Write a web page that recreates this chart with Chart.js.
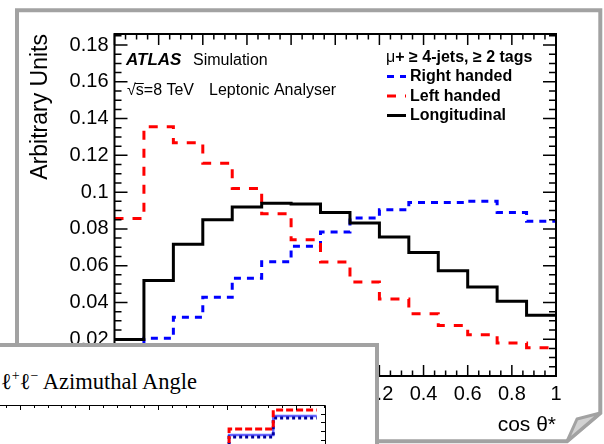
<!DOCTYPE html>
<html>
<head>
<meta charset="utf-8">
<script src="https://cdn.jsdelivr.net/npm/chart.js@4.4.1/dist/chart.umd.min.js"></script>
<style>
  html, body { margin: 0; padding: 0; background: #fff; }
  body { position: relative; width: 604px; height: 444px; overflow: hidden; }
  #main, #frame { position: absolute; left: 0; top: 0; }
  #inset-panel { position: absolute; left: -10px; top: 343px; width: 389px; height: 200px;
    box-sizing: border-box; border: 4px solid #a2a2a2; background: #fff; }
  #inset-title { position: absolute; left: 1px; top: 371px; white-space: nowrap;
    font: 22.5px/1 "Liberation Serif", "Times New Roman", serif; color: #000; }
  #inset-title .sup { font-size: 14px; position: relative; top: -9px; }
  #inset { position: absolute; left: 0; top: 403px; }
</style>
</head>
<body>
<canvas id="main" width="604" height="444"></canvas>
<svg id="frame" width="604" height="444">
  <path d="M17,450 V10.3 H600.3 V413 L567,441.3 H300" fill="none" stroke="#a2a2a2" stroke-width="4"/>
  <path d="M567,441.3 L577,419 L600.3,413 Z" fill="#d2d2d2" stroke="#a2a2a2" stroke-width="3" stroke-linejoin="round"/>
</svg>
<div id="inset-panel"></div>
<div id="inset-title">ℓ<span class="sup">+</span>ℓ<span class="sup">−</span> Azimuthal Angle</div>
<canvas id="inset" width="330" height="41"></canvas>
<script>
'use strict';

// cos theta* histogram, 15 bins from -1 to 1
const binEdges = [-1, -0.8667, -0.7333, -0.6, -0.4667, -0.3333, -0.2, -0.0667,
                  0.0667, 0.2, 0.3333, 0.4667, 0.6, 0.7333, 0.8667, 1];
const rightHanded  = [0.012, 0.0205, 0.0319, 0.0428, 0.0531, 0.0622, 0.0705, 0.0783,
                      0.0859, 0.0904, 0.0944, 0.0943, 0.0951, 0.0889, 0.0842];
const leftHanded   = [0.0857, 0.1356, 0.1269, 0.1157, 0.102, 0.0882, 0.0741, 0.062,
                      0.0511, 0.0419, 0.0338, 0.0274, 0.0225, 0.018, 0.0153];
const longitudinal = [0.0198, 0.052, 0.0716, 0.085, 0.0919, 0.094, 0.0935, 0.0889,
                      0.0832, 0.0756, 0.0672, 0.0573, 0.0484, 0.0406, 0.033];
const seriesLabels = ['Right handed', 'Left handed', 'Longitudinal'];

// fragment of the overlapping azimuthal-angle panel
const insetEdges = [2.39, 3.03, 3.67, 4.30];
const insetRed   = [0, 2.25, 4.41];
const insetBlue  = [0, 1.57, 3.73];
const insetNavy  = [0, 1.34, 3.50];

const SANS = '"Liberation Sans", Arial, Helvetica, sans-serif';

// one point per lower bin edge, plus the closing edge
function histPoints(edges, vals) {
  return edges.map((x, i) => ({ x, y: vals[Math.min(i, vals.length - 1)] }));
}

function fmt(v) { return String(Number(v.toFixed(2))); }

// ROOT style frame with inward ticks on all four sides
const frameTicks = {
  id: 'frameTicks',
  afterDatasetsDraw(chart) {
    const { ctx, chartArea: a, scales: { x, y } } = chart;
    ctx.save();
    ctx.strokeStyle = '#000';
    ctx.lineWidth = 1.5;
    ctx.beginPath();
    const xMinor = 0.05, yMinor = 0.005;
    for (let i = 0; x.min + i * xMinor <= x.max + 1e-9; i++) {
      const px = x.getPixelForValue(x.min + i * xMinor);
      const len = i % 4 === 0 ? 11 : 5.5;
      ctx.moveTo(px, a.bottom); ctx.lineTo(px, a.bottom - len);
      ctx.moveTo(px, a.top);    ctx.lineTo(px, a.top + len);
    }
    for (let i = 0; i * yMinor <= y.max + 1e-9; i++) {
      const py = y.getPixelForValue(i * yMinor);
      const len = i % 4 === 0 ? 13 : 7;
      ctx.moveTo(a.left, py);  ctx.lineTo(a.left + len, py);
      ctx.moveTo(a.right, py); ctx.lineTo(a.right - len, py);
    }
    ctx.stroke();
    ctx.lineWidth = 2;
    ctx.strokeRect(a.left, a.top, a.right - a.left, a.bottom - a.top);
    ctx.restore();
  }
};

// ATLAS label + legend
const atlasText = {
  id: 'atlasText',
  afterDraw(chart) {
    const ctx = chart.ctx;
    ctx.save();
    ctx.fillStyle = '#000';
    ctx.textBaseline = 'alphabetic';
    ctx.font = 'italic bold 17px ' + SANS;
    ctx.fillText('ATLAS', 126, 65);
    ctx.font = '16px ' + SANS;
    ctx.fillText('Simulation', 193, 65);
    ctx.fillText('√s=8 TeV', 127, 95);
    const rw = ctx.measureText('√').width, sw = ctx.measureText('s').width;
    ctx.strokeStyle = '#000'; ctx.lineWidth = 1;
    ctx.beginPath(); ctx.moveTo(127 + rw - 1, 83.5); ctx.lineTo(127 + rw + sw, 83.5); ctx.stroke();
    ctx.fillText('Leptonic Analyser', 209, 95);

    let hx = 386;
    ctx.fillText('μ', hx, 62);
    hx += ctx.measureText('μ').width;
    ctx.font = 'bold 16px ' + SANS;
    ctx.fillText('+ ≥ 4-jets, ≥ 2 tags', hx, 62);

    chart.data.datasets.forEach((ds, i) => {
      const base = 81 + i * 19.5;
      ctx.strokeStyle = ds.borderColor;
      ctx.lineWidth = ds.borderWidth;
      ctx.setLineDash(ds.borderDash || []);
      ctx.beginPath(); ctx.moveTo(387, base - 4.5); ctx.lineTo(406, base - 4.5); ctx.stroke();
      ctx.setLineDash([]);
      ctx.fillText(ds.label, 410, base);
    });
    ctx.restore();
  }
};

// 'before' = horizontal at the current bin value, then vertical at the next edge
const histStyle = { stepped: 'before', pointRadius: 0, borderWidth: 3, fill: false, tension: 0 };

new Chart(document.getElementById('main'), {
  type: 'line',
  data: {
    datasets: [
      { ...histStyle, label: seriesLabels[0], data: histPoints(binEdges, rightHanded),
        borderColor: '#0000ff', borderDash: [7, 6], order: 2 },
      { ...histStyle, label: seriesLabels[1], data: histPoints(binEdges, leftHanded),
        borderColor: '#ff0000', borderDash: [9, 9], order: 1 },
      { ...histStyle, label: seriesLabels[2], data: histPoints(binEdges, longitudinal),
        borderColor: '#000000', order: 0 }
    ]
  },
  options: {
    responsive: false, animation: false, devicePixelRatio: 1,
    layout: { padding: { left: 0, top: 34, right: 48, bottom: 0 } },
    plugins: { legend: { display: false }, tooltip: { enabled: false } },
    scales: {
      x: {
        type: 'linear', min: -1, max: 1,
        grid: { display: false, drawTicks: false }, border: { display: false },
        ticks: { stepSize: 0.2, autoSkip: false, maxRotation: 0, padding: 6, color: '#000',
                 font: { family: SANS, size: 20 }, callback: v => fmt(v) },
        title: { display: true, text: 'cos θ*', align: 'end', color: '#000',
                 font: { family: SANS, size: 21 }, padding: { top: 0, bottom: 6 } },
        afterFit(s) { s.height = 68; }
      },
      y: {
        type: 'linear', min: 0, max: 0.186,
        grid: { display: false, drawTicks: false }, border: { display: false },
        ticks: { stepSize: 0.02, includeBounds: false, padding: 6, color: '#000',
                 font: { family: SANS, size: 20 }, callback: v => fmt(v) },
        title: { display: true, text: 'Arbitrary Units', align: 'end', color: '#000',
                 font: { family: SANS, size: 23 }, padding: { top: 27, bottom: 0 } },
        afterFit(s) { s.width = 114.5; }
      }
    }
  },
  plugins: [frameTicks, atlasText]
});

// top and right axes of the covered panel
const insetAxes = {
  id: 'insetAxes',
  afterDatasetsDraw(chart) {
    const { ctx, chartArea: a, scales: { x, y } } = chart;
    ctx.save();
    ctx.strokeStyle = '#000';
    ctx.lineWidth = 1;
    ctx.beginPath();
    ctx.moveTo(a.left, a.top + 0.5); ctx.lineTo(a.right + 0.5, a.top + 0.5);
    ctx.lineTo(a.right + 0.5, a.bottom);
    for (let i = Math.ceil(x.min / 0.2); i * 0.2 <= x.max; i++) {
      const px = Math.round(x.getPixelForValue(i * 0.2)) + 0.5;
      const len = i % 5 === 0 ? 5 : 3;
      ctx.moveTo(px, a.top); ctx.lineTo(px, a.top + len);
    }
    for (let v = Math.ceil(y.min); v <= y.max; v++) {
      const py = Math.round(y.getPixelForValue(v)) + 0.5;
      ctx.moveTo(a.right, py); ctx.lineTo(a.right - 4, py);
    }
    ctx.stroke();
    ctx.restore();
  }
};

const insetStyle = { stepped: 'before', pointRadius: 0, fill: false, tension: 0 };

new Chart(document.getElementById('inset'), {
  type: 'line',
  data: {
    datasets: [
      { ...insetStyle, data: histPoints(insetEdges, insetBlue), borderColor: '#6464ff', borderWidth: 2.5, order: 2 },
      { ...insetStyle, data: histPoints(insetEdges, insetNavy), borderColor: '#0000a0', borderWidth: 3, borderDash: [3, 3], order: 1 },
      { ...insetStyle, data: histPoints(insetEdges, insetRed), borderColor: '#ff0000', borderWidth: 3, borderDash: [7, 3], order: 0 }
    ]
  },
  options: {
    responsive: false, animation: false, devicePixelRatio: 1,
    layout: { padding: { left: 0, top: 2, right: 5, bottom: 0 } },
    plugins: { legend: { display: false }, tooltip: { enabled: false } },
    scales: {
      x: { type: 'linear', min: -0.29, max: 4.42, display: false },
      y: { type: 'linear', min: 0.55, max: 4.98, display: false }
    }
  },
  plugins: [insetAxes]
});
</script>
</body>
</html>
